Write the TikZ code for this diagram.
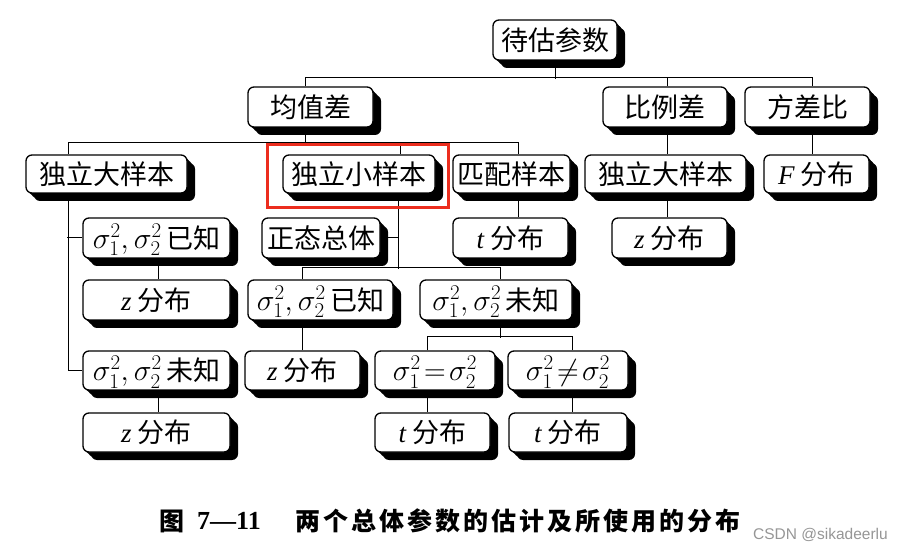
\RequirePackage{fix-cm}
\documentclass[tikz,border=0pt]{standalone}
\usepackage{fontspec}
\setmainfont{Liberation Serif}
\newfontfamily\cjk{Noto Sans CJK SC}
\newfontfamily\capcjk[LetterSpace=12]{Noto Sans CJK SC}
\newfontfamily\wmfont{Liberation Sans}
\usetikzlibrary{shadows}
\definecolor{redbox}{RGB}{236,45,30}
\definecolor{wmgray}{RGB}{150,150,150}
\tikzset{
  bx/.style={draw=black, line width=1.3pt, fill=white, rounded corners=6pt,
    inner sep=0pt, text height=22pt, text depth=1.5pt,
    font=\fontsize{27}{30}\selectfont\cjk,
    drop shadow={shadow xshift=2.5pt, shadow yshift=-2.5pt, fill=black, opacity=1},
    drop shadow={shadow xshift=5pt, shadow yshift=-5pt, fill=black, opacity=1},
    drop shadow={shadow xshift=8pt, shadow yshift=-8pt, fill=black, opacity=1}},
  ln/.style={line width=1pt, black},
  hlbox/.style={draw=redbox, line width=3pt},
  captxt/.style={anchor=west, inner sep=0pt}
}
\newcommand\zit[1]{{\rmfamily\itshape #1}}
\newcommand\sg[1]{{\fontsize{30}{32}\selectfont$#1$}}
\begin{document}
\begin{tikzpicture}[x=1pt, y=-1pt]
\useasboundingbox[fill=white] (0,0) rectangle (900,553);

% row 0
\node[bx, minimum width=124pt, minimum height=40pt] (root) at (555,40) {待估参数};
% row 1
\node[bx, minimum width=125pt, minimum height=40pt] (jz) at (310.5,107) {均值差};
\node[bx, minimum width=124pt, minimum height=40pt] (bl) at (665,107) {比例差};
\node[bx, minimum width=125pt, minimum height=40pt] (fc) at (807.5,107) {方差比};
% row 2
\node[bx, minimum width=161pt, minimum height=38pt] (dL) at (106.5,174) {独立大样本};
\node[bx, minimum width=152pt, minimum height=38pt] (dx) at (359,174) {独立小样本};
\node[bx, minimum width=117pt, minimum height=38pt] (pp) at (511.5,174) {匹配样本};
\node[bx, minimum width=161pt, minimum height=38pt] (dR) at (665.5,174) {独立大样本};
\node[bx, minimum width=105pt, minimum height=38pt] (F) at (816.5,174) {\zit{F} 分布};
% row 3
\node[bx, minimum width=147pt, minimum height=40pt] (s1L) at (156.5,238) {\sg{\sigma_1^2,\sigma_2^2}\,已知};
\node[bx, minimum width=118pt, minimum height=40pt] (zt) at (321,238) {正态总体};
\node[bx, minimum width=115pt, minimum height=40pt] (tp) at (510.5,238) {\zit{t} 分布};
\node[bx, minimum width=115pt, minimum height=40pt] (zR) at (669.5,238) {\zit{z} 分布};
% row 4
\node[bx, minimum width=147pt, minimum height=40pt] (zL1) at (156.5,300) {\zit{z} 分布};
\node[bx, minimum width=145pt, minimum height=40pt] (s1M) at (320.5,300) {\sg{\sigma_1^2,\sigma_2^2}\,已知};
\node[bx, minimum width=152pt, minimum height=40pt] (s2M) at (496,300) {\sg{\sigma_1^2,\sigma_2^2}\,未知};
% row 5
\node[bx, minimum width=147pt, minimum height=39pt] (s2L) at (156.5,370.5) {\sg{\sigma_1^2,\sigma_2^2}\,未知};
\node[bx, minimum width=115pt, minimum height=39pt] (zM) at (302.5,370.5) {\zit{z} 分布};
\node[bx, minimum width=120pt, minimum height=39pt] (eq) at (435,370.5) {\sg{\sigma_1^2\!=\!\sigma_2^2}};
\node[bx, minimum width=120pt, minimum height=39pt] (ne) at (568,370.5) {\sg{\sigma_1^2\!\neq\!\sigma_2^2}};
% row 6
\node[bx, minimum width=147pt, minimum height=39pt] (zL2) at (156.5,432.5) {\zit{z} 分布};
\node[bx, minimum width=115pt, minimum height=39pt] (tL) at (432.5,432.5) {\zit{t} 分布};
\node[bx, minimum width=118pt, minimum height=39pt] (tR) at (568,432.5) {\zit{t} 分布};

% connectors: top level
\draw[ln] (root.south) -- ++(0,18);
\draw[ln] ([xshift=-5.5pt]jz.north) -- ++(0,-9) -| ([xshift=4.5pt]fc.north);
\draw[ln] ([xshift=2pt]bl.north) -- ++(0,-9);
% level 2
\draw[ln] ([xshift=-5.5pt]jz.south) -- ++(0,16);
\draw[ln] ([xshift=-38.5pt]dL.north) -- ++(0,-12) -| ([xshift=6.5pt]pp.north);
\draw[ln] ([xshift=41pt]dx.north) -- ++(0,-12);
\draw[ln] ([xshift=2pt]bl.south) -- ([xshift=1.5pt]dR.north);
\draw[ln] ([xshift=4.5pt]fc.south) -- ([xshift=-4.5pt]F.north);
% level 3
\draw[ln] ([xshift=6.5pt]pp.south) -- ([xshift=7.5pt]tp.north);
\draw[ln] ([xshift=1.5pt]dR.south) -- ([xshift=-2.5pt]zR.north);
\draw[ln] ([xshift=-38.5pt]dL.south) |- (s2L.west);
\draw[ln] (s1L.west) -- ++(-15,0);
\draw[ln] ([xshift=1.5pt]s1L.south) -- ([xshift=1.5pt]zL1.north);
\draw[ln] ([xshift=1.5pt]s2L.south) -- ([xshift=1.5pt]zL2.north);
\draw[ln] ([xshift=39pt]dx.south) -- ++(0,75);
\draw[ln] (zt.east) -- ++(18,0);
\draw[ln] ([xshift=-18.5pt]s1M.north) -- ++(0,-12) -| ([xshift=4pt]s2M.north);
\draw[ln] ([xshift=-18.5pt]s1M.south) -- ([xshift=-0.5pt]zM.north);
\draw[ln] ([xshift=4pt]s2M.south) -- ++(0,17);
\draw[ln] ([xshift=-8pt]eq.north) -- ++(0,-14) -| ([xshift=4pt]ne.north);
\draw[ln] ([xshift=-8pt]eq.south) -- ([xshift=-5.5pt]tL.north);
\draw[ln] ([xshift=4pt]ne.south) -- ([xshift=4pt]tR.north);

% highlight
\draw[hlbox] ([xshift=-15pt,yshift=-14pt]dx.south west) rectangle ([xshift=13pt,yshift=10pt]dx.north east);

% caption
\node[captxt, font=\fontsize{25}{28}\selectfont\cjk\bfseries] (capA) at (159,521) {图};
\node[captxt, font=\fontsize{26}{28}\selectfont\rmfamily\bfseries] (capB) at (197,521) {7—11};
\node[captxt, font=\fontsize{25}{28}\selectfont\capcjk\bfseries] (capC) at (295,521) {两个总体参数的估计及所使用的分布};
\node[captxt, font=\fontsize{15.5}{17}\selectfont\wmfont, text=wmgray] (wm) at (753,535) {CSDN @sikadeerlu};
\end{tikzpicture}
\end{document}
